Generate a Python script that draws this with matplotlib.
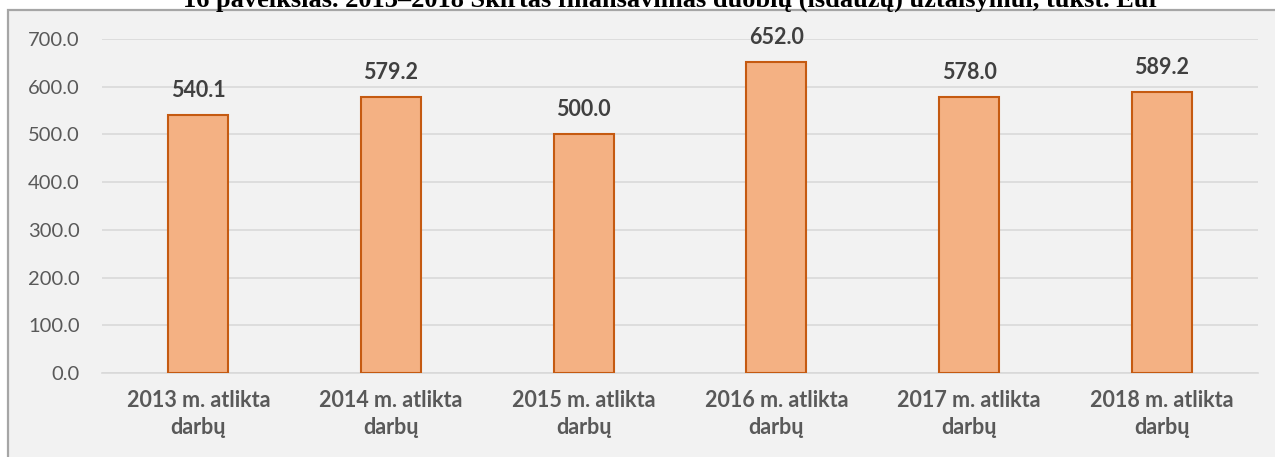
import matplotlib.pyplot as plt
from matplotlib.patches import Rectangle

# skirtas finansavimas, tūkst. Eur
years = ['2013', '2014', '2015', '2016', '2017', '2018']
labels = [y + ' m. atlikta\ndarbų' for y in years]
values = [540.1, 579.2, 500.0, 652.0, 578.0, 589.2]
yticks = [0, 100, 200, 300, 400, 500, 600, 700]

plt.rcParams['font.family'] = ['Lato', 'DejaVu Sans']

fig = plt.figure(figsize=(12.75, 4.57), dpi=100, facecolor='white')

# pilkas diagramos fonas su rėmeliu
fig.patches.append(Rectangle((8 / 1275, -0.05), 1.0, 1 - 10 / 457 + 0.05,
                             transform=fig.transFigure, facecolor='#F2F2F2',
                             edgecolor='#A6A6A6', linewidth=1.6, zorder=-1))

fig.text(672 / 1275, 1 - 7 / 457,
         '16 paveikslas. 2013–2018 Skirtas finansavimas duobių (išdaužų) užtaisymui, tūkst. Eur',
         ha='center', va='baseline', fontsize=19, fontweight='bold',
         family=['Liberation Serif', 'DejaVu Serif'], color='black', zorder=5)

ax = fig.add_axes([102 / 1275, 1 - 373 / 457, (1258 - 102) / 1275, (373 - 39) / 457])
ax.set_facecolor('none')

x = range(len(values))
ax.bar(x, values, width=0.31, color='#F4B183', edgecolor='#C55A11', linewidth=1.5, zorder=3)

for i, v in enumerate(values):
    ax.annotate(f'{v:.1f}', (i, v), xytext=(0, 13), textcoords='offset points',
                ha='center', va='baseline', fontsize=15.5, fontweight='bold', color='#404040')

ax.set_xlim(-0.5, len(values) - 0.5)
ax.set_ylim(0, 700)
ax.set_yticks(yticks)
ax.set_yticklabels([f'{t:.1f}' for t in yticks], fontsize=14.5)
ax.yaxis.grid(True, color='#D9D9D9', linewidth=1.2, zorder=0)
ax.set_axisbelow(True)

ax.set_xticks(list(x))
ax.set_xticklabels(labels, fontweight='bold', fontsize=15.5, linespacing=1.4)

for s in ['top', 'right', 'left']:
    ax.spines[s].set_visible(False)
ax.spines['bottom'].set_color('#D9D9D9')
ax.spines['bottom'].set_linewidth(1.2)

ax.tick_params(axis='both', length=0, colors='#595959')
ax.tick_params(axis='y', pad=16)
ax.tick_params(axis='x', pad=12)

fig.savefig('out.png', dpi=100, facecolor='white')
